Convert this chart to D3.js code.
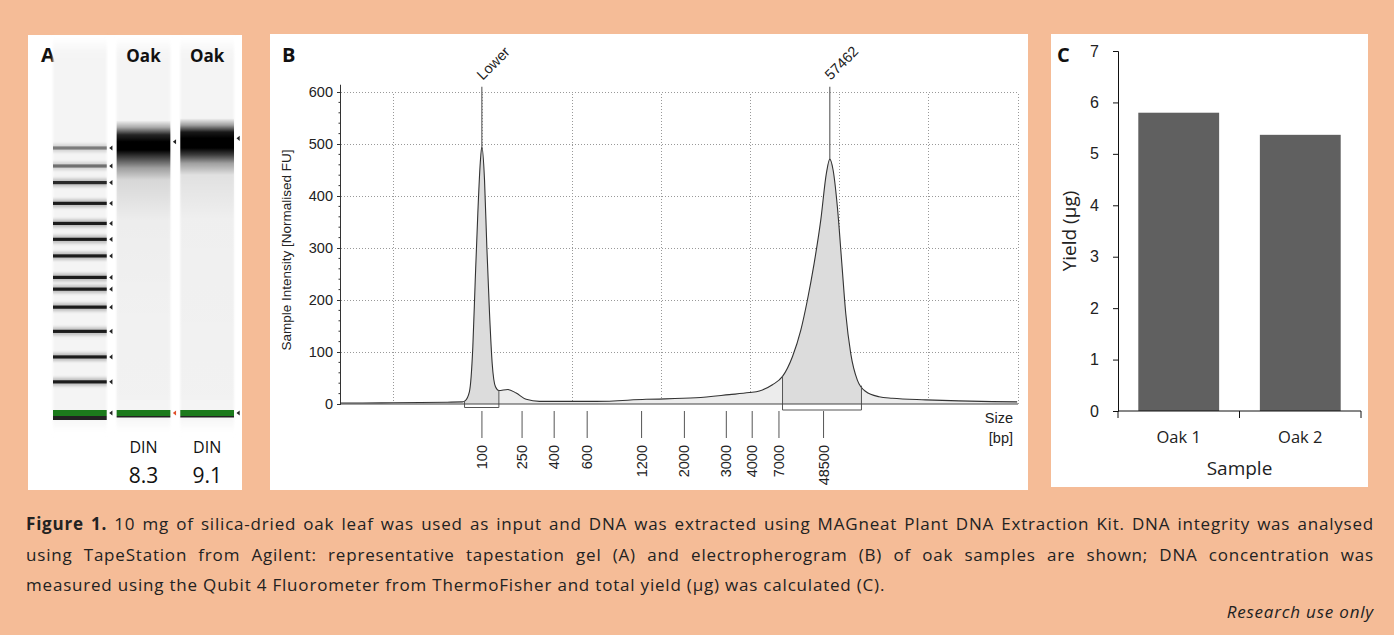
<!DOCTYPE html>
<html>
<head>
<meta charset="utf-8">
<script src="https://cdn.jsdelivr.net/npm/d3@7"></script>
<style>
  body { margin: 0; background: #F5BC97; }
  #wrap { position: relative; width: 1394px; height: 635px; overflow: hidden; }
  .cap { position: absolute; left: 26px; width: 1348px; font-family: "Open Sans", sans-serif;
         font-size: 17px; letter-spacing: 0.8px; line-height: 30px; color: #222; white-space: nowrap; }
  .just { text-align: justify; text-align-last: justify; }
</style>
</head>
<body>
<div id="wrap">
  <svg id="fig" width="1394" height="635"></svg>
</div>
<script>
// ---- data ----
// tape ladder (bp) and where each band runs (migration units, shared by gel and trace)
const ladderSizes = [100, 250, 400, 600, 900, 1200, 1500, 2000, 2500, 3000, 4000, 7000, 15000, 48500];
const ladderRun   = [1.99, 2.44, 2.80, 3.17, 3.52, 3.78, 3.95, 4.26, 4.50, 4.73, 5.02, 5.32, 5.56, 5.82];
const ladderInk   = [1, 0.95, 0.95, 0.95, 0.95, 0.95, 0.95, 0.95, 0.95, 0.95, 0.95, 0.9, 0.6, 0.55];
const sizeTicks   = [100, 250, 400, 600, 1200, 2000, 3000, 4000, 7000, 48500];

// gel lanes
const laneNames = ["", "Oak", "Oak"];
const dinValues = [null, "8.3", "9.1"];
const lane1Run = [6.22, 6.12, 6.01, 5.91, 5.79, 5.67, 5.53, 5.36, 4.78, 3.62, 2.18];
const lane1Ink = [0, 0.3, 0.85, 1, 1, 0.7, 0.35, 0.12, 0.03, 0.015, 0.01];
const lane2Run = [6.25, 6.15, 6.05, 5.96, 5.82, 5.72, 5.60, 5.43, 4.78, 2.18];
const lane2Ink = [0, 0.35, 0.9, 1, 1, 0.75, 0.35, 0.08, 0.02, 0.01];

// electropherogram trace
const traceRun = [0.41, 0.65, 1.0, 1.3, 1.6, 1.77, 1.80, 1.85, 1.888, 1.915, 1.944, 1.971, 1.989,
  2.019, 2.045, 2.075, 2.105, 2.142, 2.179, 2.28, 2.374, 2.486, 2.635, 2.71, 3.27, 3.83, 4.39,
  4.763, 4.987, 5.10, 5.247, 5.36, 5.471, 5.565, 5.639, 5.714, 5.789, 5.852, 5.890, 5.927, 5.975,
  6.025, 6.069, 6.125, 6.199, 6.293, 6.442, 6.591, 6.965, 7.338, 7.711, 7.99];
const traceFU = [2, 2, 2.5, 3, 3.5, 4, 6, 24, 110, 238, 367, 463, 495,
  431, 302, 175, 78, 33, 26, 28, 21, 9, 5, 5, 5, 9, 12,
  18, 22, 25, 37, 53, 91, 142, 200, 270, 354, 444, 471, 450, 379,
  270, 174, 97, 46, 24, 14, 11, 8, 6, 4.5, 4];
const markerNames = ["Lower", "57462"];
const markerRun = [1.989, 5.890];
const markerFU = [495, 471];
const regionFrom = [1.795, 5.36];
const regionTo = [2.18, 6.245];

// yield
const samples = ["Oak 1", "Oak 2"];
const yields = [5.8, 5.37];

const svg = d3.select("#fig");
const defs = svg.append("defs");
defs.append("filter").attr("id", "blurS").attr("x", "-10%").attr("y", "-200%").attr("width", "120%").attr("height", "500%")
  .append("feGaussianBlur").attr("stdDeviation", "0.3 0.7");
defs.append("filter").attr("id", "blurL").attr("x", "-10%").attr("y", "-200%").attr("width", "120%").attr("height", "500%")
  .append("feGaussianBlur").attr("stdDeviation", "0.6 1.8");
defs.append("filter").attr("id", "blurLane").attr("x", "-10%").attr("y", "-10%").attr("width", "120%").attr("height", "120%")
  .append("feGaussianBlur").attr("stdDeviation", "1.2 6");

svg.append("rect").attr("width", 1394).attr("height", 635).attr("fill", "#F5BC97");

// ================= Panel A : gel =================
svg.append("rect").attr("x", 28).attr("y", 35).attr("width", 214).attr("height", 455).attr("fill", "#fff");

const laneX = d3.scaleBand().domain(d3.range(laneNames.length)).range([53, 234]).paddingInner(0.156);
const gelY = d3.scaleLinear().domain([ladderRun[0], ladderRun[ladderRun.length - 1]]).range([413, 148]);

const gA = svg.append("g");
gA.append("text").attr("x", 41).attr("y", 62).text("A")
  .attr("font-family", "Open Sans, sans-serif").attr("font-weight", 700).attr("font-size", 20).attr("fill", "#111");

// lane backgrounds
gA.selectAll("rect.lane").data(d3.range(3)).join("rect")
  .attr("x", i => laneX(i)).attr("width", laneX.bandwidth())
  .attr("y", 46).attr("height", 378).attr("fill", "#f4f4f4").attr("filter", "url(#blurLane)");

// sample smears
[[lane1Run, lane1Ink], [lane2Run, lane2Ink]].forEach(([run, ink], k) => {
  const gid = "smear" + k;
  const y0 = gelY(run[0]), y1 = gelY(run[run.length - 1]);
  const grad = defs.append("linearGradient").attr("id", gid).attr("gradientUnits", "userSpaceOnUse")
    .attr("x1", 0).attr("x2", 0).attr("y1", y0).attr("y2", y1);
  run.forEach((r, j) => {
    grad.append("stop").attr("offset", (gelY(r) - y0) / (y1 - y0))
      .attr("stop-color", "#000").attr("stop-opacity", ink[j]);
  });
  gA.append("rect").attr("x", laneX(k + 1)).attr("width", laneX.bandwidth())
    .attr("y", y0).attr("height", y1 - y0).attr("fill", `url(#${gid})`);
});

// ladder bands (skip lower marker which is drawn green)
const ladderBands = ladderRun.map((r, i) => ({ r, ink: ladderInk[i] })).slice(1);
gA.selectAll("rect.halo").data(ladderBands).join("rect")
  .attr("x", laneX(0)).attr("width", laneX.bandwidth())
  .attr("y", d => gelY(d.r) - 4).attr("height", 8)
  .attr("fill", "#777").attr("opacity", d => 0.45 * d.ink).attr("filter", "url(#blurL)");
gA.selectAll("rect.core").data(ladderBands).join("rect")
  .attr("x", laneX(0)).attr("width", laneX.bandwidth())
  .attr("y", d => gelY(d.r) - 1.6).attr("height", 3.2)
  .attr("fill", d => d3.interpolateRgb("#ffffff", "#111111")(d.ink)).attr("filter", "url(#blurS)");

// lower marker in all lanes
d3.range(3).forEach(i => {
  const yy = gelY(ladderRun[0]);
  gA.append("rect").attr("x", laneX(i)).attr("width", laneX.bandwidth())
    .attr("y", yy - 3).attr("height", 6).attr("fill", "#1d7a1d").attr("filter", "url(#blurS)");
  gA.append("rect").attr("x", laneX(i)).attr("width", laneX.bandwidth())
    .attr("y", yy + 3).attr("height", i === 0 ? 4 : 1.5).attr("fill", "#222").attr("filter", "url(#blurS)");
});

// arrows
const tri = (x, y) => `M${x},${y}L${x + 3.2},${y - 2.6}L${x + 3.2},${y + 2.6}Z`;
const arrowX0 = laneX(0) + laneX.bandwidth() + 2.5;
gA.selectAll("path.arr").data(ladderRun).join("path")
  .attr("d", r => tri(arrowX0, gelY(r))).attr("fill", "#222");
[[lane1Run, lane1Ink], [lane2Run, lane2Ink]].forEach(([run, ink], k) => {
  const ax = laneX(k + 1) + laneX.bandwidth() + 2.5;
  const peak = run[ink.indexOf(1)];
  gA.append("path").attr("d", tri(ax, gelY(peak))).attr("fill", "#222");
  gA.append("path").attr("d", tri(ax, gelY(ladderRun[0]))).attr("fill", k === 0 ? "#e0502a" : "#222");
});

// lane labels
const gelFont = "Open Sans, sans-serif";
gA.selectAll("text.oak").data(laneNames).join("text")
  .attr("x", (d, i) => laneX(i) + laneX.bandwidth() / 2).attr("y", 62)
  .attr("text-anchor", "middle").attr("font-family", gelFont).attr("font-weight", 700)
  .attr("font-size", 17).attr("fill", "#111").text(d => d);
gA.selectAll("text.din").data(dinValues).join("text")
  .attr("x", (d, i) => laneX(i) + laneX.bandwidth() / 2).attr("y", 453)
  .attr("text-anchor", "middle").attr("font-family", gelFont)
  .attr("font-size", 16).attr("fill", "#111").text(d => d ? "DIN" : "");
gA.selectAll("text.dinv").data(dinValues).join("text")
  .attr("x", (d, i) => laneX(i) + laneX.bandwidth() / 2).attr("y", 483)
  .attr("text-anchor", "middle").attr("font-family", gelFont)
  .attr("font-size", 21).attr("fill", "#111").text(d => d || "");

// ================= Panel B : electropherogram =================
svg.append("rect").attr("x", 270).attr("y", 34).attr("width", 758).attr("height", 456).attr("fill", "#fff");
const gB = svg.append("g");
const axFont = "Liberation Sans, Arial, sans-serif";
gB.append("text").attr("x", 282).attr("y", 62).text("B")
  .attr("font-family", "Open Sans, sans-serif").attr("font-weight", 700).attr("font-size", 20).attr("fill", "#111");

const x = d3.scaleLinear().domain([0.41, 8]).range([341, 1018]);
const y = d3.scaleLinear().domain([0, 600]).range([404, 92]);
const sizeToRun = d3.scaleLinear().domain(ladderSizes).range(ladderRun);

// grid
gB.append("g").selectAll("line").data(d3.range(100, 601, 100)).join("line")
  .attr("x1", x.range()[0]).attr("x2", x.range()[1]).attr("y1", d => y(d)).attr("y2", d => y(d))
  .attr("stroke", "#999").attr("stroke-dasharray", "1,2").attr("shape-rendering", "crispEdges");
gB.append("g").selectAll("line").data(d3.range(1, 9)).join("line")
  .attr("x1", d => x(d)).attr("x2", d => x(d)).attr("y1", y(0)).attr("y2", y(600))
  .attr("stroke", "#999").attr("stroke-dasharray", "1,2").attr("shape-rendering", "crispEdges");

const trace = traceRun.map((r, i) => [r, traceFU[i]]);
const area = d3.area().x(d => x(d[0])).y0(y(0)).y1(d => y(d[1])).curve(d3.curveMonotoneX);
const line = d3.line().x(d => x(d[0])).y(d => y(d[1])).curve(d3.curveMonotoneX);

gB.append("path").datum(trace).attr("d", area).attr("fill", "#ececec");
regionFrom.forEach((f, i) => {
  const cid = "reg" + i;
  defs.append("clipPath").attr("id", cid).append("rect")
    .attr("x", x(f)).attr("width", x(regionTo[i]) - x(f)).attr("y", 0).attr("height", 635);
  gB.append("path").datum(trace).attr("d", area).attr("fill", "#dcdcdc").attr("clip-path", `url(#${cid})`);
});
gB.append("path").datum(trace).attr("d", line).attr("fill", "none").attr("stroke", "#333").attr("stroke-width", 1.1);

// peak region brackets
const traceAt = r => {
  const i = d3.bisectLeft(traceRun, r);
  const a = Math.max(0, i - 1), b = Math.min(traceRun.length - 1, i);
  const t = traceRun[b] === traceRun[a] ? 0 : (r - traceRun[a]) / (traceRun[b] - traceRun[a]);
  return traceFU[a] + t * (traceFU[b] - traceFU[a]);
};
regionFrom.forEach((f, i) => {
  const yb = y(0) + (i === 0 ? 3.5 : 6);
  const t = regionTo[i];
  gB.append("path")
    .attr("d", `M${x(f)},${y(traceAt(f))}V${yb}H${x(t)}V${y(traceAt(t))}`)
    .attr("fill", "none").attr("stroke", "#555").attr("stroke-width", 1);
});

// x baseline & y axis
gB.append("line").attr("x1", x.range()[0]).attr("x2", x.range()[1]).attr("y1", y(0)).attr("y2", y(0))
  .attr("stroke", "#444").attr("stroke-width", 1.2);
const yAx = gB.append("g").attr("transform", `translate(${x.range()[0]},0)`)
  .call(d3.axisLeft(y).tickValues(d3.range(0, 601, 100)).tickSize(4).tickPadding(4));
yAx.select(".domain").attr("d", `M-0.5,${y(0)}V${y(614)}`).attr("stroke", "#333");
yAx.selectAll("text").attr("font-family", axFont).attr("font-size", 14.5).attr("fill", "#222");
yAx.selectAll("line").attr("stroke", "#333");
gB.append("g").attr("transform", `translate(${x.range()[0]},0)`).selectAll("line")
  .data(d3.range(0, 601, 20).filter(v => v % 100)).join("line")
  .attr("x1", -2.5).attr("x2", 0).attr("y1", d => y(d)).attr("y2", d => y(d)).attr("stroke", "#333");

gB.append("text").attr("transform", `translate(291,${(y(0) + y(600)) / 2 + 2}) rotate(-90)`)
  .attr("text-anchor", "middle").attr("font-family", axFont).attr("font-size", 13.5).attr("fill", "#222")
  .text("Sample Intensity [Normalised FU]");

// size ticks
const sz = gB.append("g");
sz.selectAll("line").data(sizeTicks).join("line")
  .attr("x1", d => x(sizeToRun(d))).attr("x2", d => x(sizeToRun(d)))
  .attr("y1", 411).attr("y2", 438).attr("stroke", "#555");
sz.selectAll("text").data(sizeTicks).join("text")
  .attr("transform", d => `translate(${x(sizeToRun(d)) + 5},445) rotate(-90)`)
  .attr("text-anchor", "end").attr("font-family", axFont).attr("font-size", 14.5).attr("fill", "#222")
  .text(d => d);
gB.append("text").attr("x", 1013).attr("y", 423).attr("text-anchor", "end")
  .attr("font-family", axFont).attr("font-size", 14.5).attr("fill", "#222").text("Size");
gB.append("text").attr("x", 1013).attr("y", 443).attr("text-anchor", "end")
  .attr("font-family", axFont).attr("font-size", 14.5).attr("fill", "#222").text("[bp]");

// markers
markerNames.forEach((m, i) => {
  const mx = x(markerRun[i]);
  gB.append("line").attr("x1", mx).attr("x2", mx).attr("y1", y(610)).attr("y2", y(markerFU[i]))
    .attr("stroke", "#666").attr("stroke-width", 1.2);
  gB.append("text").attr("transform", `translate(${mx + 1},${y(610) - 6}) rotate(-45)`)
    .attr("font-family", axFont).attr("font-size", 14.5).attr("fill", "#222").text(m);
});

// ================= Panel C : yield =================
svg.append("rect").attr("x", 1051).attr("y", 34).attr("width", 317).attr("height", 453).attr("fill", "#fff");
const gC = svg.append("g");
gC.append("text").attr("x", 1057).attr("y", 62).text("C")
  .attr("font-family", "Open Sans, sans-serif").attr("font-weight", 700).attr("font-size", 20).attr("fill", "#111");

const xc = d3.scaleBand().domain(samples).range([1118, 1361]).paddingInner(0.335).paddingOuter(0.167);
const yc = d3.scaleLinear().domain([0, 7]).range([411, 51]);

gC.selectAll("rect.bar").data(samples).join("rect")
  .attr("x", d => xc(d)).attr("width", xc.bandwidth())
  .attr("y", (d, i) => yc(yields[i])).attr("height", (d, i) => yc(0) - yc(yields[i]))
  .attr("fill", "#606060");

const yAxC = gC.append("g").attr("transform", "translate(1118,0)")
  .call(d3.axisLeft(yc).tickValues(d3.range(0, 8)).tickSize(5).tickPadding(14).tickFormat(d3.format("d")));
yAxC.select(".domain").attr("stroke", "#111");
yAxC.selectAll("line").attr("stroke", "#111");
yAxC.selectAll("text").attr("font-family", axFont).attr("font-size", 16).attr("fill", "#222");

// category axis with ticks at band edges
const [c0, c1] = xc.range();
gC.append("line").attr("x1", c0).attr("x2", c1).attr("y1", yc(0)).attr("y2", yc(0)).attr("stroke", "#111");
gC.selectAll("line.edge").data([c0, (c0 + c1) / 2, c1]).join("line")
  .attr("x1", d => d).attr("x2", d => d).attr("y1", yc(0)).attr("y2", yc(0) + 7).attr("stroke", "#111");
gC.selectAll("text.cat").data(samples).join("text")
  .attr("x", d => xc(d) + xc.bandwidth() / 2).attr("y", 443).attr("text-anchor", "middle")
  .attr("font-family", "Open Sans, sans-serif").attr("font-size", 16.5).attr("fill", "#222").text(d => d);
gC.append("text").attr("x", (c0 + c1) / 2).attr("y", 475).attr("text-anchor", "middle")
  .attr("font-family", "Open Sans, sans-serif").attr("font-size", 19).attr("fill", "#222").text("Sample");
gC.append("text").attr("transform", `translate(1076,${(yc(0) + yc(7)) / 2}) rotate(-90)`)
  .attr("text-anchor", "middle").attr("font-family", "Open Sans, sans-serif").attr("font-size", 19)
  .attr("fill", "#222").text("Yield (µg)");

// ================= caption =================
const capLines = [
  ["Figure 1.", " 10 mg of silica-dried oak leaf was used as input and DNA was extracted using MAGneat Plant DNA Extraction Kit. DNA integrity was analysed"],
  ["", "using TapeStation from Agilent: representative tapestation gel (A) and electropherogram (B) of oak samples are shown; DNA concentration was"],
  ["", "measured using the Qubit 4 Fluorometer from ThermoFisher and total yield (µg) was calculated (C)."]
];
const wrap = d3.select("#wrap");
capLines.forEach((l, i) => {
  const d = wrap.append("div").attr("class", "cap" + (i < 2 ? " just" : ""))
    .style("top", (509 + i * 30.5) + "px");
  if (l[0]) d.append("b").text(l[0]);
  d.append("span").text(l[1]);
});
wrap.append("div").attr("class", "cap").style("top", "597px").style("text-align", "right")
  .style("font-style", "italic").text("Research use only");
</script>
</body>
</html>
